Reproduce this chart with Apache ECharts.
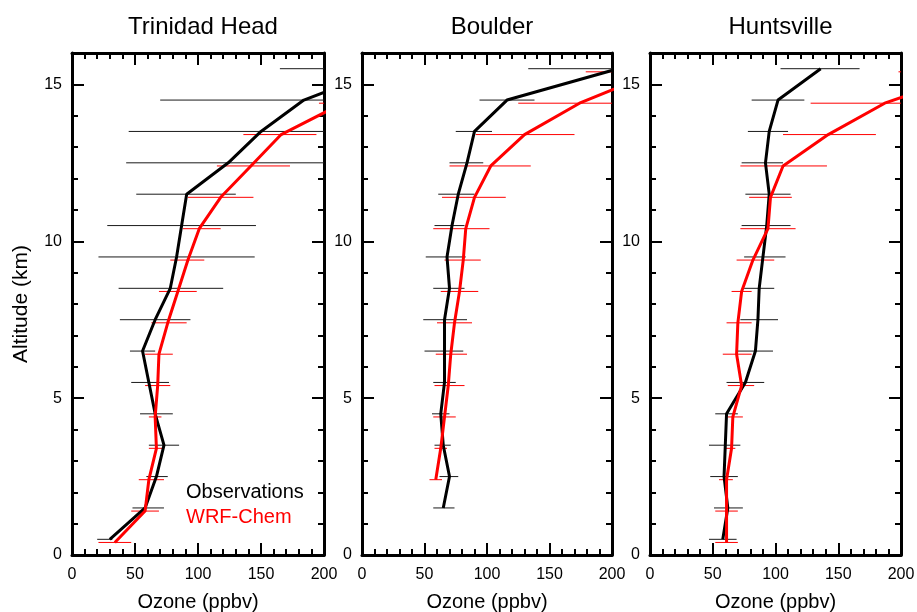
<!DOCTYPE html>
<html>
<head>
<meta charset="utf-8">
<script src="https://cdn.jsdelivr.net/npm/echarts@6/dist/echarts.min.js"></script>
<style>
  html, body { margin: 0; padding: 0; background: #fff; }
  #main { width: 917px; height: 612px; }
</style>
</head>
<body>
<div id="main"></div>
<script>
// altitude levels (km); model points sit a little below the observed ones
var altObs = [0.5, 1.5, 2.5, 3.5, 4.5, 5.5, 6.5, 7.5, 8.5, 9.5, 10.5, 11.5, 12.5, 13.5, 14.5, 15.5];
var altMod = [0.4, 1.4, 2.4, 3.4, 4.4, 5.4, 6.4, 7.4, 8.4, 9.4, 10.4, 11.4, 12.4, 13.4, 14.4, 15.4];

var stations = ["Trinidad Head", "Boulder", "Huntsville"];
var xTicks = [0, 50, 100, 150, 200];
var yTicks = [0, 5, 10, 15];

// Trinidad Head
var thObs   = [30, 58, 67, 73, 66, 61, 56, 66, 78, 83, 87, 91, 124, 150, 184, 250];
var thObsLo = [20, 48, 59, 61, 54, 47, 46, 38, 37, 21, 28, 51, 43, 45, 70, 165];
var thObsHi = [32, 73, 76, 85, 80, 77, 66, 94, 120, 145, 146, 130, 205, 255, 298, 335];
var thMod   = [34, 58, 61, 67, 66, 68, 69, 76, 84, 92, 101, 118, 142, 166, 215, 245];
var thModLo = [21, 47, 53, 61, 61, 58, 58, 63, 69, 78, 88, 92, 115, 136, 196, 220];
var thModHi = [47, 69, 73, 72, 71, 78, 80, 91, 99, 105, 118, 144, 173, 194, 235, 270];

// Boulder (no obs at 0.5 km, no model below 2.4 km)
var bdObs   = [null, 65, 70, 65, 63, 66, 66, 66, 70, 68, 72, 77, 84, 90, 116, 205];
var bdObsLo = [null, 57, 62, 58, 56, 57, 50, 49, 57, 51, 58, 61, 70, 75, 94, 133];
var bdObsHi = [null, 74, 77, 71, 70, 75, 81, 84, 82, 83, 82, 90, 97, 104, 138, 277];
var bdMod   = [null, null, 59, 63, 66, 69, 71, 74, 78, 81, 83, 90, 103, 130, 174, 235];
var bdModLo = [null, null, 54, 58, 57, 58, 59, 60, 63, 66, 57, 64, 70, 91, 125, 179];
var bdModHi = [null, null, 64, 68, 75, 82, 84, 88, 93, 95, 102, 115, 135, 170, 223, 290];

// Huntsville
var hvObs   = [58, 62, 59, 60, 61, 76, 84, 86, 87, 90, 93, 95, 92, 95, 102, 136];
var hvObsLo = [47, 51, 48, 47, 52, 61, 70, 72, 75, 75, 73, 76, 73, 78, 81, 104];
var hvObsHi = [69, 74, 70, 72, 70, 91, 98, 102, 99, 108, 112, 112, 106, 110, 123, 167];
var hvMod   = [61, 61, 61, 65, 66, 73, 69, 70, 73, 82, 94, 96, 106, 142, 187, 260];
var hvModLo = [52, 52, 55, 60, 62, 62, 58, 61, 65, 69, 72, 79, 72, 106, 128, 198];
var hvModHi = [70, 70, 66, 68, 74, 83, 81, 81, 81, 99, 116, 113, 141, 180, 247, 320];

var obsSets = [[thObs, thObsLo, thObsHi], [bdObs, bdObsLo, bdObsHi], [hvObs, hvObsLo, hvObsHi]];
var modSets = [[thMod, thModLo, thModHi], [bdMod, bdModLo, bdModHi], [hvMod, hvModLo, hvModHi]];

var FONT = "'Liberation Sans', Arial, Helvetica, sans-serif";
var gridBoxes = [
  { left: 72, top: 53, width: 252, height: 502, outerBoundsMode: "none", containLabel: false },
  { left: 362, top: 53, width: 250, height: 502, outerBoundsMode: "none", containLabel: false },
  { left: 650, top: 53, width: 251, height: 502, outerBoundsMode: "none", containLabel: false }
];

function linePoints(vals, alts) {
  var out = [];
  for (var i = 0; i < vals.length; i++) {
    if (vals[i] != null) out.push([vals[i], alts[i]]);
  }
  return out;
}
function barPoints(lo, hi, alts) {
  var out = [];
  for (var i = 0; i < lo.length; i++) {
    if (lo[i] != null) out.push([lo[i], hi[i], alts[i]]);
  }
  return out;
}
function errBar(color) {
  return function (params, api) {
    var a = api.coord([api.value(0), api.value(2)]);
    var b = api.coord([api.value(1), api.value(2)]);
    return {
      type: "line",
      shape: { x1: a[0], y1: a[1], x2: b[0], y2: b[1] },
      style: { stroke: color, lineWidth: 1 }
    };
  };
}

var myChart = echarts.init(document.getElementById("main"));
var grid = [], xAxis = [], yAxis = [], series = [], title = [];
var blk = { color: "#000", width: 3 };

for (var p = 0; p < 3; p++) {
  grid.push(gridBoxes[p]);
  title.push({
    text: stations[p],
    left: gridBoxes[p].left + gridBoxes[p].width / 2,
    top: 10,
    textAlign: "center",
    textStyle: { fontFamily: FONT, fontSize: 24, fontWeight: "normal", color: "#000" }
  });
  // bottom and top x axes (negative tick length => ticks point into the plot)
  ["bottom", "top"].forEach(function (pos) {
    xAxis.push({
      gridIndex: p, type: "value", position: pos,
      min: 0, max: 200, interval: 50,
      axisLine: { show: true, onZero: false, lineStyle: blk },
      axisTick: { show: true, length: -12, lineStyle: { color: "#000", width: 2 } },
      minorTick: { show: true, splitNumber: 5, length: -6, lineStyle: { color: "#000", width: 2 } },
      axisLabel: {
        show: pos === "bottom", fontFamily: FONT, fontSize: 16, color: "#000", margin: 12,
        customValues: xTicks
      },
      splitLine: { show: false },
      name: pos === "bottom" ? "Ozone (ppbv)" : "",
      nameLocation: "middle", nameGap: 37,
      nameTextStyle: { fontFamily: FONT, fontSize: 20, color: "#000" }
    });
  });
  // left and right y axes: major (labels) + minor
  ["left", "right"].forEach(function (pos) {
    yAxis.push({
      gridIndex: p, type: "value", position: pos, min: 0, max: 16,
      axisLine: { show: true, onZero: false, lineStyle: blk },
      axisTick: { show: true, length: -12, customValues: yTicks, lineStyle: { color: "#000", width: 2 } },
      axisLabel: {
        show: pos === "left", customValues: yTicks, fontFamily: FONT, fontSize: 16, color: "#000", margin: 10
      },
      splitLine: { show: false },
      name: (p === 0 && pos === "left") ? "Altitude (km)" : "",
      nameLocation: "middle", nameRotate: 90, nameGap: 40,
      nameTextStyle: { fontFamily: FONT, fontSize: 21, color: "#000" }
    });
    yAxis.push({
      gridIndex: p, type: "value", position: pos, min: 0, max: 16, interval: 1,
      axisLine: { show: false, onZero: false },
      axisTick: { show: true, length: -6, lineStyle: { color: "#000", width: 2 } },
      axisLabel: { show: false },
      splitLine: { show: false }
    });
  });

  var xi = p * 2, yi = p * 4;
  series.push({
    type: "custom", xAxisIndex: xi, yAxisIndex: yi, clip: true, z: 1,
    renderItem: errBar("#1a1a1a"),
    encode: { x: [0, 1], y: 2 },
    data: barPoints(obsSets[p][1], obsSets[p][2], altObs)
  });
  series.push({
    type: "custom", xAxisIndex: xi, yAxisIndex: yi, clip: true, z: 1,
    renderItem: errBar("#ff0000"),
    encode: { x: [0, 1], y: 2 },
    data: barPoints(modSets[p][1], modSets[p][2], altMod)
  });
  series.push({
    name: "Observations", type: "line", xAxisIndex: xi, yAxisIndex: yi, z: 3,
    showSymbol: false, symbol: "none", clip: true, animation: false,
    lineStyle: { color: "#000", width: 3 },
    data: linePoints(obsSets[p][0], altObs)
  });
  series.push({
    name: "WRF-Chem", type: "line", xAxisIndex: xi, yAxisIndex: yi, z: 4,
    showSymbol: false, symbol: "none", clip: true, animation: false,
    lineStyle: { color: "#ff0000", width: 3 },
    data: linePoints(modSets[p][0], altMod)
  });
}

myChart.setOption({
  animation: false,
  backgroundColor: "#fff",
  title: title,
  grid: grid,
  xAxis: xAxis,
  yAxis: yAxis,
  series: series,
  graphic: [
    { type: "text", left: 186, top: 482, style: { text: "Observations", fill: "#000", font: "20px " + FONT } },
    { type: "text", left: 186, top: 507, style: { text: "WRF-Chem", fill: "#ff0000", font: "20px " + FONT } }
  ]
});
</script>
</body>
</html>
